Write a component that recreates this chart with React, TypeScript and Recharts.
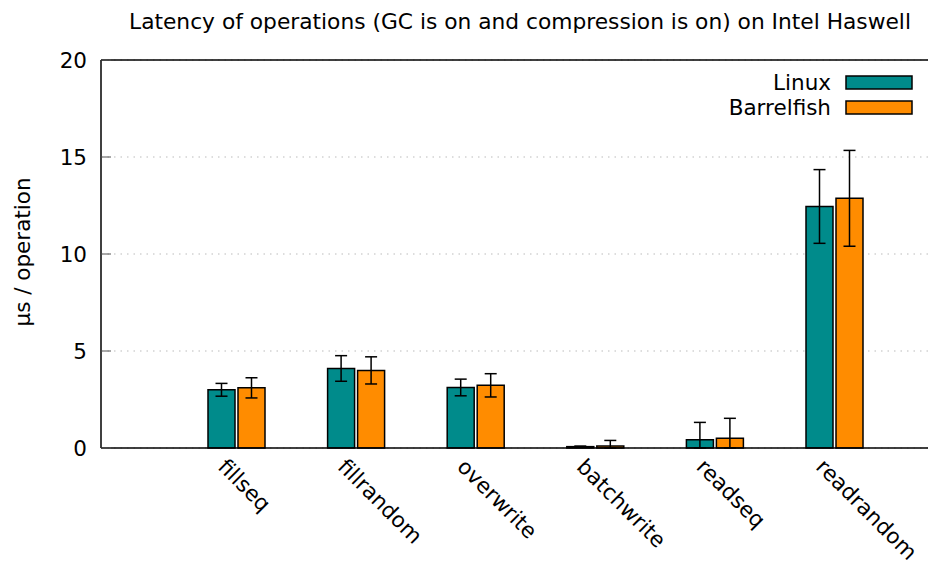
import React from 'react';
import { BarChart, Bar, XAxis, YAxis, CartesianGrid, ErrorBar, Legend, ReferenceLine } from 'recharts';

const categories = ['fillseq', 'fillrandom', 'overwrite', 'batchwrite', 'readseq', 'readrandom'];
const linuxValues = [3.0, 4.1, 3.12, 0.07, 0.43, 12.45];
const linuxErrors = [0.33, 0.66, 0.43, 0.03, 0.89, 1.9];
const barrelfishValues = [3.1, 4.0, 3.23, 0.1, 0.5, 12.87];
const barrelfishErrors = [0.52, 0.7, 0.6, 0.29, 1.03, 2.47];
const yTicks = [0, 5, 10, 15, 20];
const seriesNames = ['Linux', 'Barrelfish'];
const seriesColors = ['#008b8b', '#ff8c00'];
const titleText = 'Latency of operations (GC is on and compression is on) on Intel Haswell';
const yLabelText = 'µs / operation';

// error bars are clipped at the x axis (0), like the plot area clipping in the original
const data = categories.map((name, i) => ({
  name,
  linux: linuxValues[i],
  linuxErr: [Math.min(linuxErrors[i], linuxValues[i]), linuxErrors[i]],
  barrelfish: barrelfishValues[i],
  barrelfishErr: [Math.min(barrelfishErrors[i], barrelfishValues[i]), barrelfishErrors[i]],
}));

const FONT = 'DejaVu Sans';
const FS = 21.5;
const W = 928;
const H = 562;

const YTick = (props: any) => {
  const { x, y, payload } = props;
  return (
    <g>
      <line x1={x} x2={x + 10} y1={y} y2={y} stroke="#555" strokeWidth={1} />
      <text x={x - 14} y={y} dy="0.36em" textAnchor="end" fontSize={FS} fontFamily={FONT} fill="#000">
        {payload.value}
      </text>
    </g>
  );
};

const XTick = (props: any) => {
  const { x, y, payload } = props;
  const sx = x - 20;
  const sy = y + 20;
  return (
    <text x={sx} y={sy} textAnchor="start" fontSize={FS} fontFamily={FONT} fill="#000" transform={`rotate(45 ${sx} ${sy})`}>
      {payload.value}
    </text>
  );
};

const Overlay = (props: any) => {
  const payload = props.payload || [];
  const items = seriesNames
    .map((n) => payload.find((p: any) => p.value === n))
    .filter(Boolean);
  return (
    <svg width={W} height={H} style={{ position: 'absolute', left: 0, top: 0, pointerEvents: 'none' }}>
      <text x={520} y={29} textAnchor="middle" fontSize={21.75} fontFamily={FONT} fill="#000">
        {titleText}
      </text>
      <text x={30} y={252} textAnchor="middle" fontSize={FS} fontFamily={FONT} fill="#000" transform="rotate(-90 30 252)">
        {yLabelText}
      </text>
      {items.map((p: any, i: number) => (
        <g key={i}>
          <text x={831} y={90 + i * 25} textAnchor="end" fontSize={FS} fontFamily={FONT} fill="#000">
            {p.value}
          </text>
          <rect x={846} y={76 + i * 25} width={66} height={13} fill={p.color} stroke="#000" strokeWidth={1.5} />
        </g>
      ))}
    </svg>
  );
};

export default function App() {
  return (
    <div style={{ position: 'absolute', left: 0, top: 0, width: W, height: H, background: '#fff' }}>
      <BarChart
        width={W}
        height={H}
        data={data}
        margin={{ top: 60, right: 0, bottom: 0, left: 0 }}
        barGap={3}
        style={{ fontFamily: FONT }}
      >
        <CartesianGrid horizontal vertical={false} stroke="#bbbbbb" strokeDasharray="1.5 5" />
        <XAxis
          dataKey="name"
          type="category"
          padding={{ left: 76, right: 33.4 }}
          tickLine={false}
          tickSize={0}
          tickMargin={0}
          axisLine={{ stroke: '#000', strokeWidth: 1.5 }}
          tick={<XTick />}
          interval={0}
          height={114}
        />
        <YAxis
          type="number"
          domain={[0, 20]}
          ticks={yTicks}
          width={101}
          tickLine={false}
          tickSize={0}
          tickMargin={0}
          axisLine={{ stroke: '#000', strokeWidth: 1.5 }}
          tick={<YTick />}
          interval={0}
        />
        <ReferenceLine y={20} stroke="#000" strokeWidth={1.5} />
        <Legend
          layout="horizontal"
          verticalAlign="middle"
          align="center"
          wrapperStyle={{ position: 'absolute', left: 0, top: 0, width: W, height: H, pointerEvents: 'none' }}
          content={<Overlay />}
        />
        <Bar dataKey="linux" name={seriesNames[0]} fill={seriesColors[0]} stroke="#000" strokeWidth={1.5} barSize={27} isAnimationActive={false}>
          <ErrorBar dataKey="linuxErr" width={6} stroke="#000" strokeWidth={1.5} direction="y" isAnimationActive={false} />
        </Bar>
        <Bar dataKey="barrelfish" name={seriesNames[1]} fill={seriesColors[1]} stroke="#000" strokeWidth={1.5} barSize={27} isAnimationActive={false}>
          <ErrorBar dataKey="barrelfishErr" width={6} stroke="#000" strokeWidth={1.5} direction="y" isAnimationActive={false} />
        </Bar>
      </BarChart>
    </div>
  );
}
